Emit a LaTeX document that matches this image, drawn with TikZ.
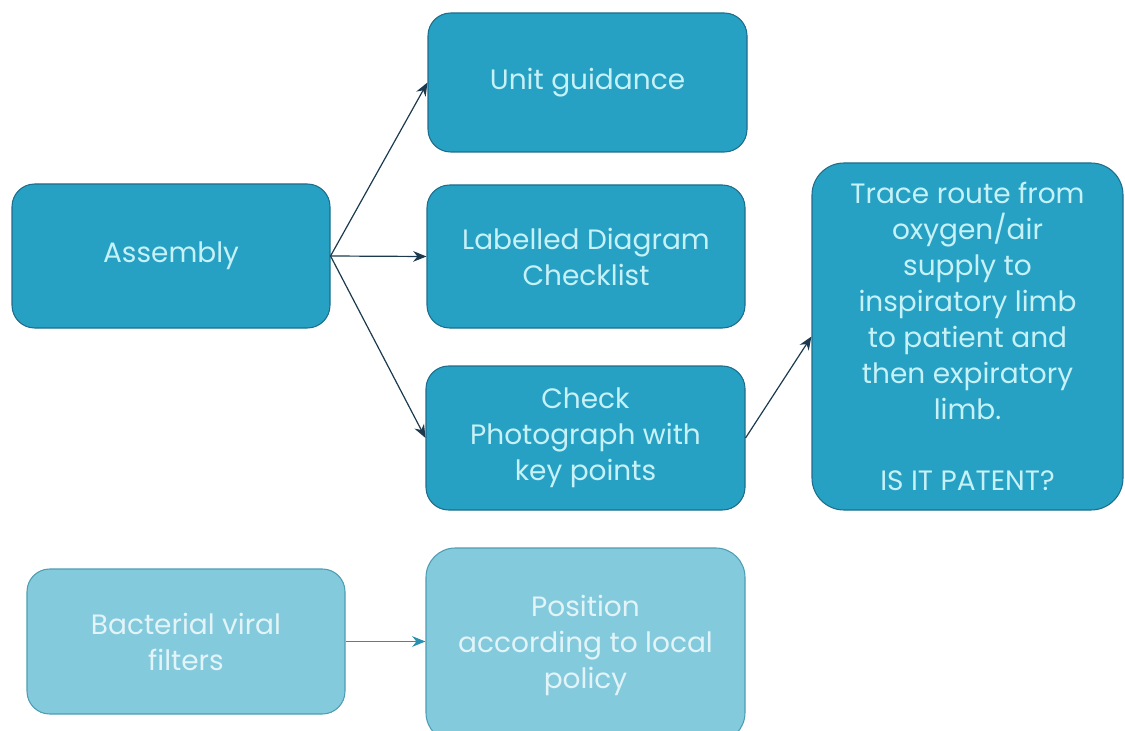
\documentclass[tikz,border=0pt]{standalone}
\usepackage{fontspec}
\setmainfont{Poppins}
\usetikzlibrary{arrows.meta}
\definecolor{boxfill}{HTML}{26A1C4}
\definecolor{boxline}{HTML}{1D6E8C}
\definecolor{boxtext}{HTML}{C6F1F7}
\definecolor{softfill}{HTML}{84CADD}
\definecolor{softline}{HTML}{4E9DB3}
\definecolor{softtext}{HTML}{E2F4F8}
\definecolor{linkdark}{HTML}{1B3A4F}
\definecolor{linksoft}{HTML}{2A8FB0}
\begin{document}
\begin{tikzpicture}[x=0.75pt,y=-0.75pt,
  card/.style={draw=boxline,line width=0.8pt,fill=boxfill,text=boxtext,
    rounded corners=17pt,align=center,inner sep=0pt,
    font=\fontsize{21pt}{27pt}\selectfont},
  softcard/.style={card,draw=softline,fill=softfill,text=softtext},
  link/.style={draw=linkdark,line width=0.9pt,-{Stealth[length=10pt,width=8pt]}},
  softlink/.style={link,draw=linksoft,-{Stealth[length=10pt,width=8pt,fill=linksoft]}}]
\useasboundingbox (0,0) rectangle (1125,731);
\begin{scope}
\clip (0,0) rectangle (1125,731);
\node[card,minimum width=238.5pt,minimum height=108pt] (asm) at (171,256) {Assembly};
\node[card,minimum width=239.25pt,minimum height=104.25pt] (unit) at (587.5,82.5) {Unit guidance};
\node[card,minimum width=238.5pt,minimum height=107.25pt] (lab) at (586,256.5) {Labelled Diagram\\Checklist};
\node[card,minimum width=239.25pt,minimum height=108pt] (chk) at (585.5,438) {Check\\Photograph with\\key points};
\node[card,rounded corners=24pt,minimum width=233.25pt,minimum height=260.25pt] (trace) at (967.5,336.5)
  {Trace route from\\oxygen/air\\supply to\\inspiratory limb\\to patient and\\then expiratory\\limb.\\[26pt]IS IT PATENT?};
\node[softcard,minimum width=238.5pt,minimum height=108.75pt] (bvf) at (186,641.5) {Bacterial viral\\filters};
\node[softcard,rounded corners=22pt,minimum width=239.25pt,minimum height=145.5pt] (pos) at (585.5,645) {Position\\according to local\\policy};
\end{scope}
\draw[link] (asm.east) -- (unit.west);
\draw[link] (asm.east) -- (lab.west);
\draw[link] (asm.east) -- (chk.west);
\draw[link] (chk.east) -- (trace.west);
\draw[softlink] (bvf.east) -- (pos.west |- bvf.east);
\end{tikzpicture}
\end{document}
